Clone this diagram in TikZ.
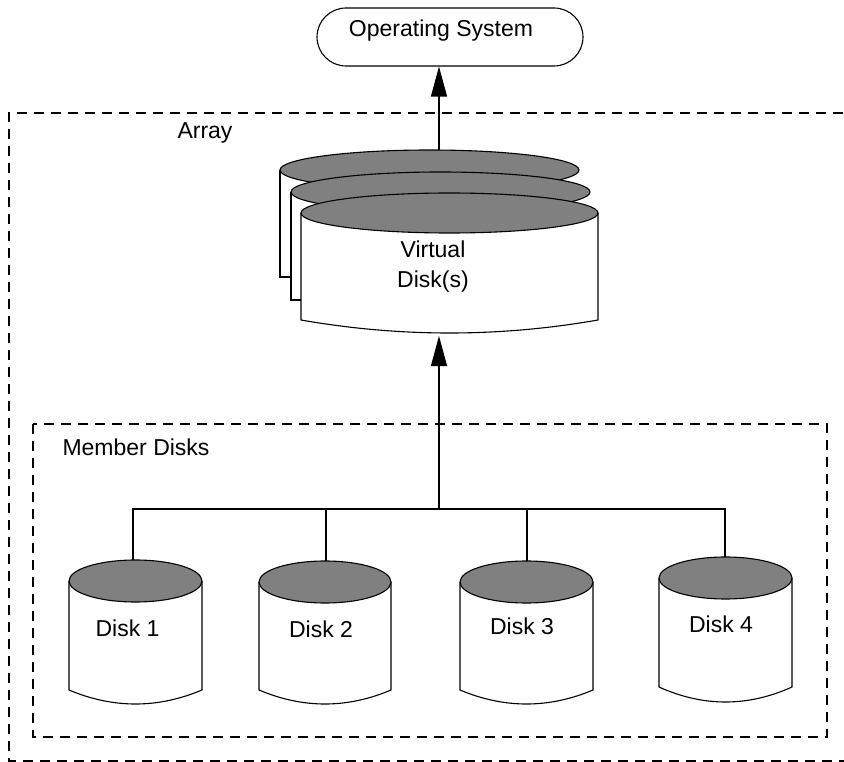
\documentclass[tikz,border=0pt]{standalone}
\usepackage{fontspec}
\setmainfont{Liberation Sans}
\usetikzlibrary{arrows.meta}
\definecolor{diskgray}{RGB}{128,128,128}
\newcommand\drawcyl[6]{%
  \draw[body] (#1,#3) -- (#1,#5) .. controls ({#1+(#2-#1)/3},{#5+#6*4/3}) and ({#2-(#2-#1)/3},{#5+#6*4/3}) .. (#2,#5) -- (#2,#3);
  \draw[lid] ({(#1+#2)/2},#3) ellipse [x radius={(#2-#1)*0.5pt}, y radius={#4pt}];
}
\begin{document}
\begin{tikzpicture}[x=1pt,y=-1pt,line width=1.1pt,
  boxdash/.style={dash pattern=on 10pt off 7pt,line width=1.1pt},
  lbl/.style={font=\fontsize{23}{30}\selectfont,inner sep=0pt},
  lid/.style={fill=diskgray,draw=black},
  body/.style={fill=white,draw=black},
  flow/.style={-{Triangle[length=30pt,width=16pt]}},
  osbox/.style={draw,rounded corners=29pt,minimum width=266pt,minimum height=58pt,inner sep=0pt}]
\useasboundingbox (0,0) rectangle (844,762);
% containers
\draw[boxdash] (860,113) -- (9,113) -- (9,761) -- (860,761);
\draw[boxdash] (33,424) rectangle (827,737);
\node[lbl,anchor=base west] (arraylbl) at (177,139) {Array};
\node[lbl,anchor=base west] (memberlbl) at (62,455) {Member Disks};
% operating system
\node[osbox] (os) at (450,37) {};
\node[lbl,anchor=base] (ostext) at (441,37) {Operating System};
% virtual disks
\draw[lid] (429.5,170) ellipse [x radius=149.5pt,y radius=20pt];
\draw (280,170) -- (280,277) -- (291,277);
\fill[white] (291,192) rectangle (590,300);
\draw (291,192) -- (291,300) -- (301,300);
\draw[lid] (440.5,192) ellipse [x radius=149.5pt,y radius=20pt];
\drawcyl{301}{598}{213}{20}{320}{13}
\node[lbl,align=center] (vdisk) at (433,267) {Virtual\\Disk(s)};
% member disks
\drawcyl{69}{202}{581}{21}{690}{14}
\drawcyl{259}{391}{582}{21}{690}{14}
\drawcyl{460}{593}{582}{21}{690}{14}
\drawcyl{659}{792}{578}{21}{687}{15}
\node[lbl,anchor=base] (disk1) at (127.5,636) {Disk 1};
\node[lbl,anchor=base] (disk2) at (321,637) {Disk 2};
\node[lbl,anchor=base] (disk3) at (522,634) {Disk 3};
\node[lbl,anchor=base] (disk4) at (721,632) {Disk 4};
% connection points
\coordinate (vtop) at (439,150);
\coordinate (vbot) at (439,336);
\coordinate (bus) at (439,509);
\coordinate (d1) at (133,560);
\coordinate (d2) at (326,561);
\coordinate (d3) at (527,561);
\coordinate (d4) at (725,557);
% connectors
\draw (d1) |- (bus) -| (d4);
\draw (d2) -- (d2 |- bus);
\draw (d3) -- (d3 |- bus);
\draw[flow] (bus) -- (vbot);
\draw[flow] (vtop) -- (vtop |- os.south);
\end{tikzpicture}
\end{document}
